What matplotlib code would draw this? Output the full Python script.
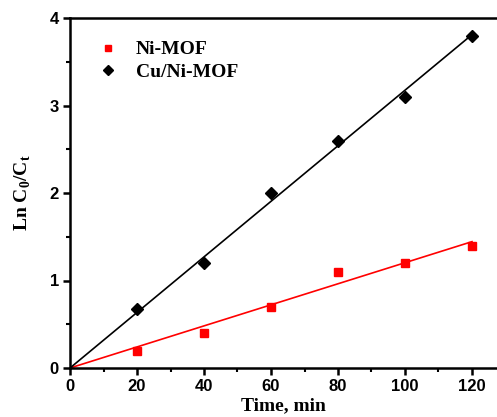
import numpy as np
import matplotlib.pyplot as plt
from matplotlib.ticker import MultipleLocator

# data
time_min = [20, 40, 60, 80, 100, 120]
ni_mof = [0.2, 0.4, 0.7, 1.1, 1.2, 1.4]
cu_ni_mof = [0.68, 1.2, 2.0, 2.6, 3.1, 3.8]

SERIF = "Liberation Serif"
SANS = "Liberation Sans"

plt.rcParams["mathtext.fontset"] = "custom"
plt.rcParams["mathtext.rm"] = SERIF

fig = plt.figure(figsize=(4.97, 4.17), dpi=100)
ax = fig.add_axes([70 / 497, 1 - 368 / 417, 1 - 70 / 497, (368 - 18) / 417])

t = np.array(time_min, dtype=float)
fit_x = np.array([0, 120])

# linear fits through the origin
for y, col, mk, ms, lab in [(ni_mof, "red", "s", 6, "Ni-MOF"),
                            (cu_ni_mof, "black", "D", 6, "Cu/Ni-MOF")]:
    y = np.array(y)
    k = (t * y).sum() / (t * t).sum()
    ax.plot(fit_x, k * fit_x, color=col, lw=1.2)
    ax.plot(t, y, ls="none", marker=mk, ms=ms, color=col, label=lab)

ax.set_xlim(0, 427 / 67 * 20)
ax.set_ylim(0, 4)
ax.xaxis.set_major_locator(MultipleLocator(20))
ax.xaxis.set_minor_locator(MultipleLocator(10))
ax.yaxis.set_major_locator(MultipleLocator(1))
ax.yaxis.set_minor_locator(MultipleLocator(0.5))

for s in ["left", "bottom", "top"]:
    ax.spines[s].set_linewidth(1.8)
ax.spines["right"].set_visible(False)

ax.tick_params(which="major", direction="out", length=5, width=1.8, pad=3)
ax.tick_params(which="minor", direction="out", length=3, width=1.5)
for lbl in ax.get_xticklabels() + ax.get_yticklabels():
    lbl.set_fontfamily(SANS)
    lbl.set_fontweight("bold")
    lbl.set_fontsize(12)

ax.set_xlabel("Time, min", fontfamily=SERIF, fontweight="bold", fontsize=14, labelpad=2)
ax.set_ylabel(r"Ln C$_\mathregular{0}$/C$_\mathregular{t}$", fontfamily=SERIF,
              fontweight="bold", fontsize=14, labelpad=12)

ax.legend(loc="upper left", bbox_to_anchor=(0.02, 0.985), frameon=False,
          prop={"family": SERIF, "weight": "bold", "size": 14},
          handletextpad=0.85, labelspacing=0.25, handlelength=1.2, markerscale=0.8)

fig.savefig("out.png", dpi=100)
